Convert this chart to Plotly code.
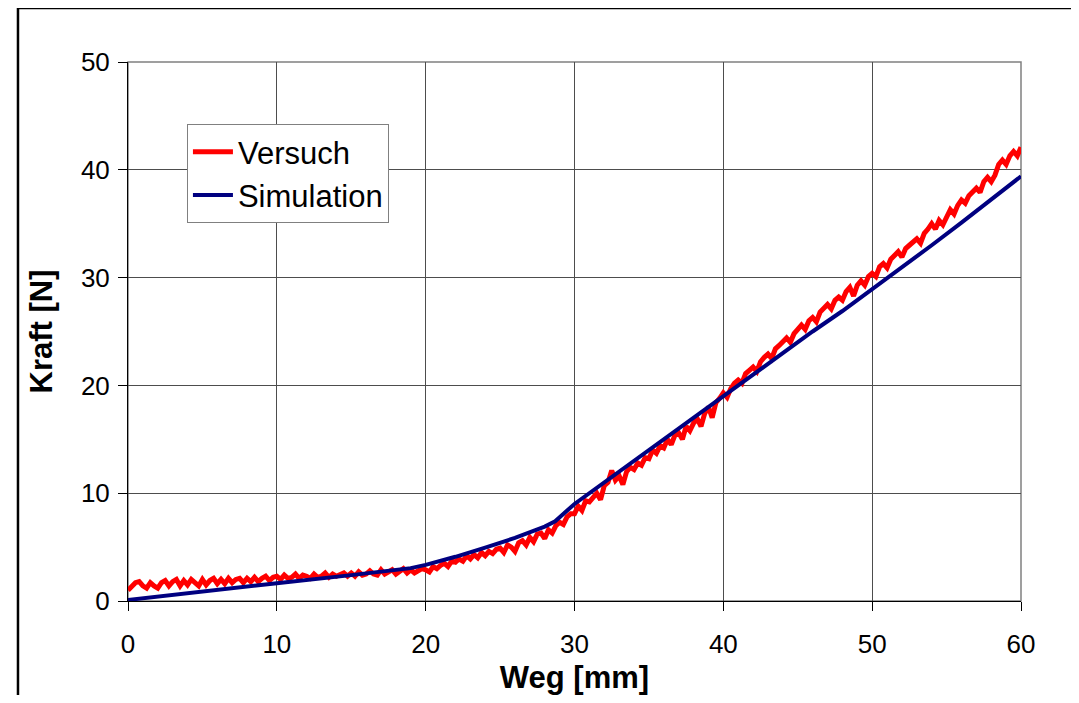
import plotly.graph_objects as go

# ---------------- data ----------------
STEP = 0.25
VERSUCH_Y = [
    # 0 - 4.75
    1.0, 1.3, 1.7, 1.8, 1.4, 1.2, 1.7, 1.4, 1.2, 1.7, 1.9, 1.4, 1.8, 2.0, 1.4, 1.9, 1.5, 2.0, 1.7, 1.4,
    # 5 - 9.75
    2.0, 1.5, 1.9, 2.1, 1.6, 2.0, 1.6, 2.1, 1.7, 2.0, 2.1, 1.7, 2.1, 1.8, 2.2, 1.8, 2.1, 2.3, 1.9, 2.2,
    # 10 - 14.75
    2.3, 2.0, 2.4, 2.1, 2.2, 2.5, 2.1, 2.4, 2.3, 2.1, 2.5, 2.2, 2.3, 2.6, 2.2, 2.5, 2.3, 2.4, 2.6, 2.3,
    # 15 - 19.75
    2.6, 2.3, 2.7, 2.4, 2.5, 2.8, 2.5, 2.4, 2.9, 2.5, 2.7, 2.9, 2.5, 2.8, 3.0, 2.6, 2.9, 2.6, 2.8, 3.0,
    # 20 - 24.75
    2.9, 2.7, 3.2, 3.0, 3.3, 3.5, 3.2, 3.7, 3.6, 3.9, 3.7, 4.2, 3.9, 4.3, 4.0, 4.5, 4.2, 4.6, 4.4, 4.8,
    # 25 - 29.75
    4.9, 4.5, 5.2, 5.0, 4.6, 5.4, 5.6, 5.2, 5.9, 5.5, 6.2, 6.3, 5.8, 6.6, 6.3, 7.0, 7.3, 7.1, 7.8, 8.1,
    # 30 - 34.75
    8.1, 8.8, 8.4, 9.3, 9.2, 9.7, 10.0, 9.4, 10.7, 11.0, 12.1, 11.2, 11.6, 10.8, 12.0, 12.4, 12.2, 12.8, 12.6, 13.3,
    # 35 - 39.75
    13.2, 14.0, 13.7, 14.4, 14.2, 15.0, 14.5, 15.4, 15.6, 15.0, 16.2, 15.8, 16.5, 16.9, 16.2, 17.4, 18.0, 17.0, 18.4, 18.8,
    # 40 - 44.75
    19.3, 18.9, 19.7, 20.2, 20.5, 20.2, 21.1, 21.4, 21.7, 21.3, 22.2, 22.6, 22.9, 22.5, 23.4, 23.7, 24.0, 24.4, 24.0, 24.8,
    # 45 - 49.75
    25.2, 25.6, 25.2, 26.0, 26.3, 25.9, 26.8, 27.1, 27.5, 27.1, 27.9, 28.2, 27.9, 28.7, 29.1, 28.3, 29.3, 29.7, 29.3, 30.1,
    # 50 - 54.75
    30.4, 30.1, 31.0, 31.3, 30.9, 31.7, 32.0, 32.4, 31.9, 32.7, 33.0, 33.3, 33.6, 33.2, 34.1, 34.5, 35.0, 34.5, 35.3, 34.9,
    # 55 - 60
    35.7, 36.3, 35.9, 36.7, 37.2, 36.9, 37.6, 38.0, 38.3, 37.9, 38.9, 39.3, 38.9, 39.5, 40.5, 40.9, 40.5, 41.3, 41.7, 41.3,
    42.1,
]
VERSUCH_X = [i * STEP for i in range(len(VERSUCH_Y))]

SIM_X = [0, 5, 10, 15, 19, 20, 22, 24, 26, 28, 28.7, 30, 32, 34, 36, 38, 40,
         42, 44, 46, 48, 50, 52, 54, 56, 58, 60]
SIM_Y = [0.1, 0.9, 1.65, 2.4, 3.05, 3.35, 4.1, 4.95, 5.85, 6.9, 7.4, 9.0, 11.0, 13.0, 15.0, 17.1, 19.0,
         21.0, 23.0, 25.0, 26.9, 28.9, 31.0, 33.0, 35.1, 37.2, 39.4]

X_TICKS = [0, 10, 20, 30, 40, 50, 60]
Y_TICKS = [0, 10, 20, 30, 40, 50]

FONT = "Arial, 'Liberation Sans', sans-serif"

fig = go.Figure()
fig.add_trace(go.Scatter(x=VERSUCH_X, y=VERSUCH_Y, mode="lines", name="Versuch",
                         line=dict(color="#ff0000", width=5)))
fig.add_trace(go.Scatter(x=SIM_X, y=SIM_Y, mode="lines", name="Simulation",
                         line=dict(color="#000080", width=4)))

fig.update_layout(
    width=1071, height=687,
    margin=dict(l=120, r=58, t=54, b=94),
    paper_bgcolor="white", plot_bgcolor="white",
    font=dict(family=FONT, color="black"),
    showlegend=True,
    legend=dict(x=0.066, y=0.885, xanchor="left", yanchor="top",
                bgcolor="white", bordercolor="#808080", borderwidth=1,
                font=dict(size=31, family=FONT, color="black"),
                itemwidth=40, tracegroupgap=0),
    xaxis=dict(range=[0, 60], tickvals=X_TICKS, ticks="outside", ticklen=9, tickcolor="black",
               showline=True, linecolor="black", linewidth=1, mirror=False, automargin=False,
               showgrid=True, gridcolor="#4d4d4d", gridwidth=1, zeroline=False,
               tickfont=dict(size=26, family=FONT, color="black"), ticklabelstandoff=11,
               title=dict(text="<b>Weg [mm]</b>", font=dict(size=31, family=FONT, color="black"),
                          standoff=14)),
    yaxis=dict(range=[0, 50], tickvals=Y_TICKS, ticks="outside", ticklen=9, tickcolor="black",
               showline=True, linecolor="black", linewidth=1, mirror=False, automargin=False,
               showgrid=True, gridcolor="#4d4d4d", gridwidth=1, zeroline=False,
               tickfont=dict(size=26, family=FONT, color="black"), ticklabelstandoff=3,
               title=dict(text="<b>Kraft [N]</b>", font=dict(size=31, family=FONT, color="black"),
                          standoff=19)),
)

# gray plot-area border on top / right
fig.add_shape(type="rect", xref="paper", yref="paper", x0=0, x1=1, y0=0, y1=1,
              line=dict(color="#808080", width=1.5), layer="below")
# outer chart frame
fig.add_shape(type="rect", xref="paper", yref="paper", x0=-0.1232, x1=1.0605, y0=-0.4, y1=1.1002,
              line=dict(color="black", width=2.5))

fig.write_html("out.html")
